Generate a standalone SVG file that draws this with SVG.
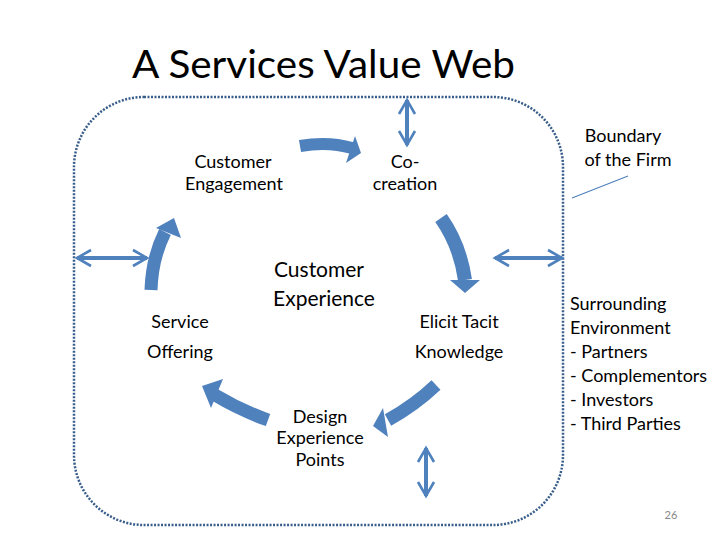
<svg xmlns="http://www.w3.org/2000/svg" width="720" height="540" viewBox="0 0 720 540">
<style>
text{font-family:Lato,"Open Sans",sans-serif;fill:#000}
.s{font-size:18px}
.b{fill:none;stroke:#4f81bd}
.h{fill:#4f81bd}
.d{fill:none;stroke:#4f81bd;stroke-width:4}
</style>
<defs>
<marker id="o" viewBox="0 0 10 10" refX="8" refY="5" markerWidth="5" markerHeight="5" orient="auto-start-reverse" markerUnits="strokeWidth"><path d="M1,1 L8,5 L1,9" fill="none" stroke="#4f81bd" stroke-width="1.3"/></marker>
</defs>
<rect width="720" height="540" fill="#fff"/>
<text x="132" y="78" font-size="38" textLength="383" lengthAdjust="spacingAndGlyphs">A Services Value Web</text>
<rect id="boundary" x="74" y="97" width="489" height="428" rx="70" fill="none" stroke="#385d8a" stroke-width="2.5" stroke-dasharray="2 1.5"/>
<g id="connectors">
<path class="b" stroke-width="12" d="M300,146 Q328,141 352,148"/>
<polygon class="h" points="361,153 355,136 346,163"/>
<path class="b" stroke-width="14" d="M441,218 Q460,245 465,280"/>
<polygon class="h" points="465,293 450,280 480,280"/>
<path class="b" stroke-width="13" d="M436,385 Q415,405 388,420"/>
<polygon class="h" points="373,426 383,408 388,437"/>
<path class="b" stroke-width="13" d="M268,420 Q240,410 215,395"/>
<polygon class="h" points="202,386 223,379 211,408"/>
<path class="b" stroke-width="13" d="M151,290 Q152,258 165,232"/>
<polygon class="h" points="174,218 156,228 181,238"/>
<line class="d" x1="407" y1="100" x2="407" y2="145" marker-start="url(#o)" marker-end="url(#o)"/>
<line class="d" x1="77" y1="258" x2="147" y2="258" marker-start="url(#o)" marker-end="url(#o)"/>
<line class="d" x1="495" y1="258" x2="562" y2="258" marker-start="url(#o)" marker-end="url(#o)"/>
<line class="d" x1="426" y1="448" x2="426" y2="496" marker-start="url(#o)" marker-end="url(#o)"/>
<line x1="628" y1="176" x2="572" y2="198" stroke="#4f81bd" stroke-width="1.2"/>
</g>
<g id="n-engagement"><text class="s" x="233" y="168" text-anchor="middle">Customer</text><text class="s" x="234" y="190" text-anchor="middle">Engagement</text></g>
<g id="n-cocreation"><text class="s" x="405" y="168" text-anchor="middle">Co-</text><text class="s" x="405" y="190" text-anchor="middle">creation</text></g>
<g id="n-experience"><text x="319" y="277" font-size="21" text-anchor="middle">Customer</text><text x="324" y="306" font-size="21" text-anchor="middle">Experience</text></g>
<g id="n-service"><text class="s" x="180" y="328" text-anchor="middle">Service</text><text class="s" x="180" y="358" text-anchor="middle">Offering</text></g>
<g id="n-elicit"><text class="s" x="459" y="328" text-anchor="middle">Elicit Tacit</text><text class="s" x="459" y="358" text-anchor="middle">Knowledge</text></g>
<g id="n-design"><text class="s" x="320" y="423" text-anchor="middle">Design</text><text class="s" x="320" y="444" text-anchor="middle">Experience</text><text class="s" x="320" y="466" text-anchor="middle">Points</text></g>
<g id="n-boundary"><text class="s" x="623" y="142" text-anchor="middle">Boundary</text><text class="s" x="628" y="166" text-anchor="middle">of the Firm</text></g>
<g id="n-env"><text class="s" x="570" y="310">Surrounding</text><text class="s" x="570" y="334">Environment</text><text class="s" x="570" y="358">- Partners</text><text class="s" x="570" y="382">- Complementors</text><text class="s" x="570" y="406">- Investors</text><text class="s" x="570" y="430">- Third Parties</text></g>
<text x="671" y="519" font-size="11" text-anchor="middle" style="fill:#888">26</text>
</svg>
